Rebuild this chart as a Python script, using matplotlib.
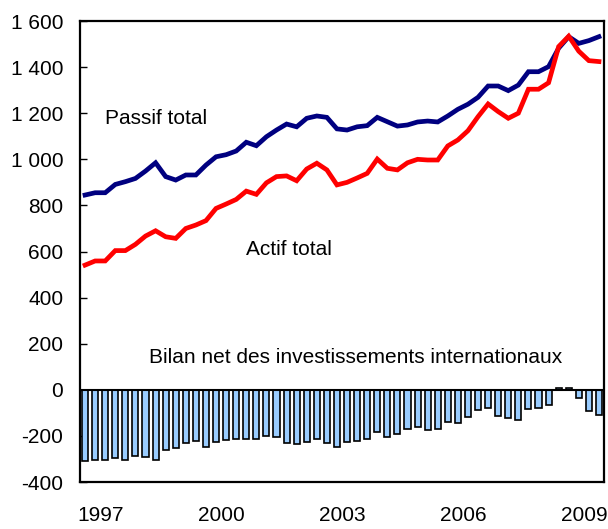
import matplotlib
matplotlib.use("Agg")
import matplotlib.pyplot as plt
import numpy as np

plt.rcParams['font.family'] = ['Liberation Sans', 'DejaVu Sans']

# Quarterly data 1997Q1 - 2009Q4
passif = [845, 855, 855, 891, 903, 917, 949, 985, 925, 910, 932, 932, 975, 1011, 1020, 1036,
          1074, 1059, 1098, 1127, 1153, 1141, 1178, 1188, 1182, 1132, 1127, 1141, 1146, 1182,
          1163, 1144, 1149, 1162, 1166, 1162, 1188, 1217, 1239, 1269, 1318, 1318, 1298, 1322,
          1380, 1380, 1402, 1482, 1532, 1503, 1515, 1532]
actif = [541, 559, 559, 604, 604, 631, 667, 690, 664, 657, 700, 715, 734, 787, 806, 826,
         862, 848, 898, 925, 928, 907, 958, 983, 954, 889, 900, 919, 939, 1001,
         961, 954, 985, 1000, 997, 997, 1058, 1084, 1124, 1185, 1240, 1207, 1178, 1200,
         1304, 1304, 1332, 1489, 1534, 1469, 1428, 1424]
bilan = [-308, -304, -304, -294, -304, -288, -291, -304, -263, -253, -231, -220, -250, -227,
         -218, -213, -213, -214, -202, -205, -230, -234, -225, -213, -230, -246, -228, -220,
         -213, -182, -204, -192, -171, -162, -175, -168, -140, -143, -120, -87, -81, -113,
         -124, -129, -84, -80, -68, 10, 7, -35, -90, -111]
year_labels = ['1997', '2000', '2003', '2006', '2009']
year_tick_pos = [1.5, 13.5, 25.5, 37.5, 49.5]
y_ticks = [-400, -200, 0, 200, 400, 600, 800, 1000, 1200, 1400, 1600]

x = np.arange(len(passif))

fig = plt.figure(figsize=(6.08, 5.29), dpi=100)
ax = fig.add_axes([0.1316, 0.0888, 0.8618, 0.8715])

ax.bar(x, bilan, width=0.6, color='#99CCFF', edgecolor='black', linewidth=1.2, zorder=2)
ax.axhline(0, color='black', linewidth=1.5, zorder=3)
ax.plot(x, passif, color='#000080', linewidth=3.4, zorder=4, solid_joinstyle='miter')
ax.plot(x, actif, color='#FF0000', linewidth=3.4, zorder=4, solid_joinstyle='miter')

ax.set_xlim(-0.5, 51.5)
ax.set_ylim(-400, 1600)
ax.set_yticks(y_ticks)
ax.set_yticklabels([f"{v:,}".replace(",", " ") for v in y_ticks])
ax.set_xticks(year_tick_pos)
ax.set_xticklabels(year_labels)

ax.tick_params(axis='y', direction='in', length=5, width=1, pad=12, labelsize=15)
ax.tick_params(axis='x', length=0, pad=17, labelsize=15)

for s in ax.spines.values():
    s.set_linewidth(1.6)
    s.set_color('black')

ax.text(2.0, 1153, 'Passif total', fontsize=15, ha='left', va='baseline')
ax.text(16.0, 585, 'Actif total', fontsize=15, ha='left', va='baseline')
ax.text(6.3, 115, 'Bilan net des investissements internationaux', fontsize=15,
        ha='left', va='baseline')

fig.savefig('out.png', dpi=100)
